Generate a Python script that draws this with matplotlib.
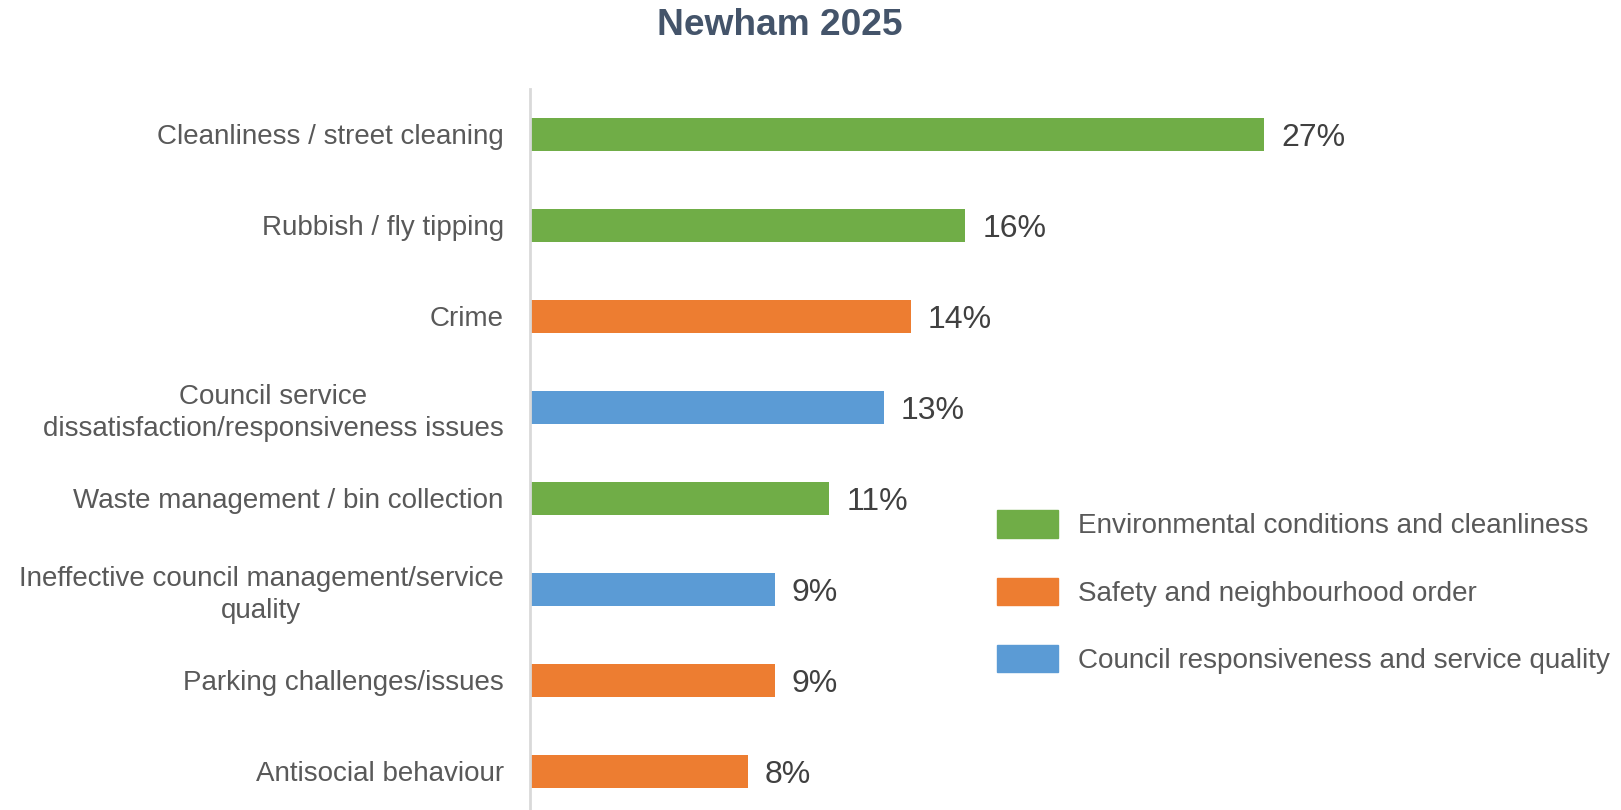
import matplotlib
matplotlib.use("Agg")
import matplotlib.pyplot as plt
from matplotlib.patches import Patch

plt.rcParams['font.family'] = ['Liberation Sans', 'DejaVu Sans']

# categories, top to bottom
categories = [
    "Cleanliness / street cleaning",
    "Rubbish / fly tipping",
    "Crime",
    "Council service\ndissatisfaction/responsiveness issues",
    "Waste management / bin collection",
    "Ineffective council management/service\nquality",
    "Parking challenges/issues",
    "Antisocial behaviour",
]
values = [27, 16, 14, 13, 11, 9, 9, 8]
groups = ["env", "env", "safety", "council", "env", "council", "safety", "safety"]

group_names = {
    "env": "Environmental conditions and cleanliness",
    "safety": "Safety and neighbourhood order",
    "council": "Council responsiveness and service quality",
}
group_colors = {"env": "#70ad47", "safety": "#ed7d31", "council": "#5b9bd5"}

fig = plt.figure(figsize=(16.21, 8.10), dpi=100)
ax = fig.add_axes([0.327, -0.0086, 0.5034, 0.8988])

y = list(range(len(categories)))
ax.barh(y, values, height=0.363, color=[group_colors[g] for g in groups])

for yi, v in zip(y, values):
    ax.text(v + 0.62, yi, f"{v}%", va="center_baseline", ha="left",
            fontsize=23, color="#404040")

ax.set_ylim(7.5, -0.5)
ax.set_xlim(0, 30)
ax.set_yticks(y)
ax.set_yticklabels(categories, fontsize=20, color="#595959",
                   multialignment="center", linespacing=1.3)
ax.tick_params(axis="y", length=0, pad=19)
ax.set_xticks([])

for s in ["top", "right", "bottom"]:
    ax.spines[s].set_visible(False)
ax.spines["left"].set_color("#d9d9d9")
ax.spines["left"].set_linewidth(2)

fig.text(0.481, 0.968, "Newham 2025", ha="center", va="center",
         fontsize=26.7, fontweight="bold", color="#44546a")

order = ["env", "safety", "council"]
handles = [Patch(color=group_colors[k]) for k in order]
labels = [group_names[k] for k in order]
leg = fig.legend(handles, labels, loc="upper left", bbox_to_anchor=(0.615, 0.370),
                 frameon=False, fontsize=20.1, borderpad=0, borderaxespad=0,
                 handlelength=2.2, handleheight=1.13, handletextpad=0.7,
                 labelspacing=1.37)
for t in leg.get_texts():
    t.set_color("#595959")

fig.savefig("out.png", dpi=100)
